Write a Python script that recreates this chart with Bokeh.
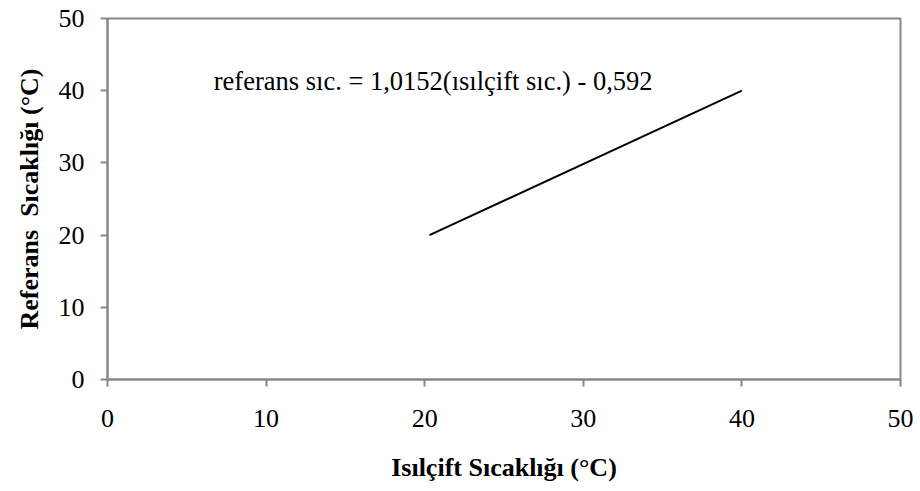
from bokeh.plotting import figure
from bokeh.models import Range1d, Label, FixedTicker
from bokeh.embed import file_html
from bokeh.resources import INLINE

# data
thermocouple_temp = [20.3, 40.0]
reference_temp = [20.0, 40.0]
x_ticks = [0, 10, 20, 30, 40, 50]
y_ticks = [0, 10, 20, 30, 40, 50]
equation_text = "referans sıc. = 1,0152(ısılçift sıc.) - 0,592"
x_title = "Isılçift Sıcaklığı (°C)"
y_title = "Referans\u00a0 Sıcaklığı (°C)"

FONT = "Liberation Serif"
GRAY = "#878787"

p = figure(width=920, height=491, output_backend="svg", toolbar_location=None,
           x_range=Range1d(0, 50), y_range=Range1d(0, 50),
           min_border_left=107, min_border_right=20, min_border_top=18, min_border_bottom=112)

p.line(thermocouple_temp, reference_temp, line_color="black", line_width=2)

p.grid.visible = False
p.outline_line_color = GRAY
p.outline_line_width = 2

for ax, ticks in ((p.xaxis, x_ticks), (p.yaxis, y_ticks)):
    ax.ticker = FixedTicker(ticks=ticks)
    ax.axis_line_color = GRAY
    ax.axis_line_width = 2
    ax.major_tick_line_color = GRAY
    ax.major_tick_line_width = 2
    ax.major_tick_in = 0
    ax.major_tick_out = 7
    ax.minor_tick_line_color = None
    ax.major_label_text_font = FONT
    ax.major_label_text_font_size = "26px"
    ax.major_label_text_color = "black"
    ax.axis_label_text_font = FONT
    ax.axis_label_text_font_style = "bold"
    ax.axis_label_text_font_size = "26px"
    ax.axis_label_text_color = "black"

p.xaxis.axis_label = x_title
p.yaxis.axis_label = y_title
p.xaxis.major_label_standoff = 23
p.yaxis.major_label_standoff = 16
p.xaxis.axis_label_standoff = 23
p.yaxis.axis_label_standoff = 12

p.add_layout(Label(x=6.7, y=41.3, text=equation_text, text_font=FONT,
                   text_font_size="26.5px", text_color="black", text_baseline="middle"))

open("out.html", "w").write(file_html(p, INLINE))
